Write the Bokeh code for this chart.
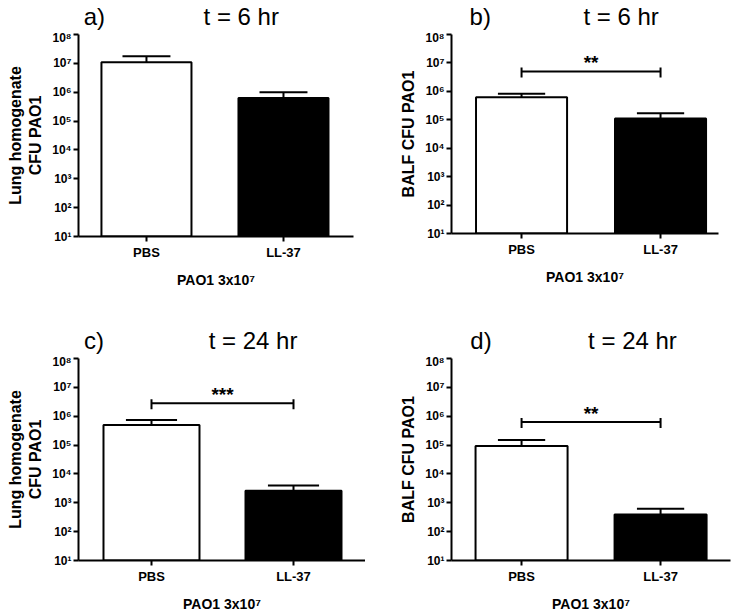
from bokeh.plotting import figure
from bokeh.models import Range1d, FixedTicker
from bokeh.layouts import row, column
from bokeh.embed import file_html
from bokeh.resources import INLINE
from bokeh.core.properties import value

# ---------------- data ----------------
groups = ["PBS", "LL-37"]
group_pos = [0, 1]
bar_colors = ["white", "black"]
y_tick_values = [10, 100, 1000, 10000, 100000, 1000000, 10000000, 100000000]
y_tick_labels = ["10¹", "10²", "10³", "10⁴", "10⁵", "10⁶", "10⁷", "10⁸"]
x_label = "PAO1 3x10⁷"

panel_letters = ["a)", "b)", "c)", "d)"]
panel_titles = ["t = 6 hr", "t = 6 hr", "t = 24 hr", "t = 24 hr"]
y_labels = ["Lung homogenate\nCFU PAO1", "BALF CFU PAO1",
            "Lung homogenate\nCFU PAO1", "BALF CFU PAO1"]

a_mean = [1.1e7, 6.3e5]
a_sem = [0.65e7, 3.7e5]
b_mean = [6.2e5, 1.1e5]
b_sem = [2.1e5, 0.6e5]
c_mean = [5.0e5, 2.6e3]
c_sem = [2.4e5, 1.4e3]
d_mean = [9.3e4, 3.9e2]
d_sem = [5.7e4, 2.3e2]

brackets = [None, 5.0e6, 2.8e6, 6.3e5]
stars = [None, "**", "***", "**"]

means = [a_mean, b_mean, c_mean, d_mean]
sems = [a_sem, b_sem, c_sem, d_sem]

# ---------------- layout (pixels) ----------------
FONT = "Liberation Sans"
# w: panel width, hh: header height, ph: plot height, borders l/r/t/b,
# xr: x range, bw: bar width, cap: half cap width,
# lx: letter x, tx: title centre x, mid: text middle above header bottom
cfg = [
    dict(w=365, hh=30, ph=275, l=78, r=12, t=4, b=69, xr=(-0.496, 1.511),
         bw=0.657, cap=0.175, lx=7, tx=216, mid=14),
    dict(w=370, hh=30, ph=275, l=86, r=17, t=4, b=72, xr=(-0.504, 1.417),
         bw=0.655, cap=0.17, lx=25, tx=235, mid=14.5),
    dict(w=365, hh=49, ph=261, l=78, r=0, t=4, b=55, xr=(-0.514, 1.507),
         bw=0.676, cap=0.18, lx=7, tx=222, mid=14),
    dict(w=370, hh=49, ph=261, l=86, r=5, t=4, b=55, xr=(-0.504, 1.503),
         bw=0.662, cap=0.17, lx=25, tx=240, mid=14),
]

PX_PER_DEC = 28.9


def make_header(i):
    c = cfg[i]
    h = figure(width=c["w"], height=c["hh"], x_range=Range1d(0, c["w"]),
               y_range=Range1d(0, c["hh"]), output_backend="svg",
               toolbar_location=None, min_border=0, title_location=None,
               x_axis_location=None, y_axis_location=None)
    h.outline_line_color = None
    h.grid.visible = False
    h.text(x=[c["lx"]], y=[c["mid"]], text=[panel_letters[i]],
           text_align="left", text_baseline="middle",
           text_font=value(FONT), text_font_size="24px", text_color="black")
    h.text(x=[c["tx"]], y=[c["mid"]], text=[panel_titles[i]],
           text_align="center", text_baseline="middle",
           text_font=value(FONT), text_font_size="24px", text_color="black")
    return h


def make_panel(i):
    c = cfg[i]
    p = figure(width=c["w"], height=c["ph"],
               x_range=Range1d(*c["xr"]), y_range=Range1d(10, 1e8),
               y_axis_type="log", output_backend="svg", toolbar_location=None,
               title_location=None,
               min_border_left=c["l"], min_border_right=c["r"],
               min_border_top=c["t"], min_border_bottom=c["b"])
    p.outline_line_color = None
    p.grid.visible = False

    p.yaxis.ticker = FixedTicker(ticks=y_tick_values, minor_ticks=[])
    p.yaxis.major_label_overrides = {v: s for v, s in zip(y_tick_values, y_tick_labels)}
    p.xaxis.ticker = FixedTicker(ticks=group_pos, minor_ticks=[])
    p.xaxis.major_label_overrides = {v: s for v, s in zip(group_pos, groups)}
    for ax in (p.xaxis[0], p.yaxis[0]):
        ax.axis_line_width = 2
        ax.axis_line_color = "black"
        ax.major_tick_line_width = 2
        ax.major_tick_line_color = "black"
        ax.major_tick_in = 0
        ax.major_tick_out = 5
        ax.minor_tick_line_color = None
        ax.major_label_text_font = FONT
        ax.major_label_text_font_style = "bold"
        ax.major_label_text_color = "black"
        ax.axis_label_text_font = FONT
        ax.axis_label_text_font_style = "bold"
        ax.axis_label_text_color = "black"
    p.yaxis.major_label_text_font_size = "12px"
    p.yaxis.major_label_standoff = 2
    p.xaxis.major_label_text_font_size = "13px"
    p.xaxis.major_label_standoff = 3
    p.yaxis.axis_label = y_labels[i]
    p.yaxis.axis_label_text_font_size = "16px"
    p.yaxis.axis_label_standoff = 5
    p.xaxis.axis_label = x_label
    p.xaxis.axis_label_text_font_size = "14px"
    p.xaxis.axis_label_standoff = 9

    m = means[i]
    s = sems[i]
    upper = [mv + sv for mv, sv in zip(m, s)]
    p.vbar(x=group_pos, top=m, bottom=10, width=c["bw"],
           fill_color=bar_colors, line_color="black", line_width=2)
    p.segment(x0=group_pos, y0=m, x1=group_pos, y1=upper,
              line_color="black", line_width=2)
    p.segment(x0=[x - c["cap"] for x in group_pos], y0=upper,
              x1=[x + c["cap"] for x in group_pos], y1=upper,
              line_color="black", line_width=2)

    br = brackets[i]
    if br is not None:
        lo = br * 10 ** (-6 / PX_PER_DEC)
        hi = br * 10 ** (4 / PX_PER_DEC)
        p.segment(x0=[group_pos[0]], y0=[br], x1=[group_pos[1]], y1=[br],
                  line_color="black", line_width=2)
        p.segment(x0=group_pos, y0=[lo, lo], x1=group_pos, y1=[hi, hi],
                  line_color="black", line_width=2)
        p.text(x=[(group_pos[0] + group_pos[1]) / 2], y=[br], text=[stars[i]],
               text_align="center", text_baseline="bottom", y_offset=2,
               text_font=value(FONT), text_font_style="bold",
               text_font_size="19px", text_color="black")
    return p


cols = [column(make_header(i), make_panel(i)) for i in range(4)]
layout = column(row(cols[0], cols[1]), row(cols[2], cols[3]))

open("out.html", "w").write(file_html(layout, INLINE))
